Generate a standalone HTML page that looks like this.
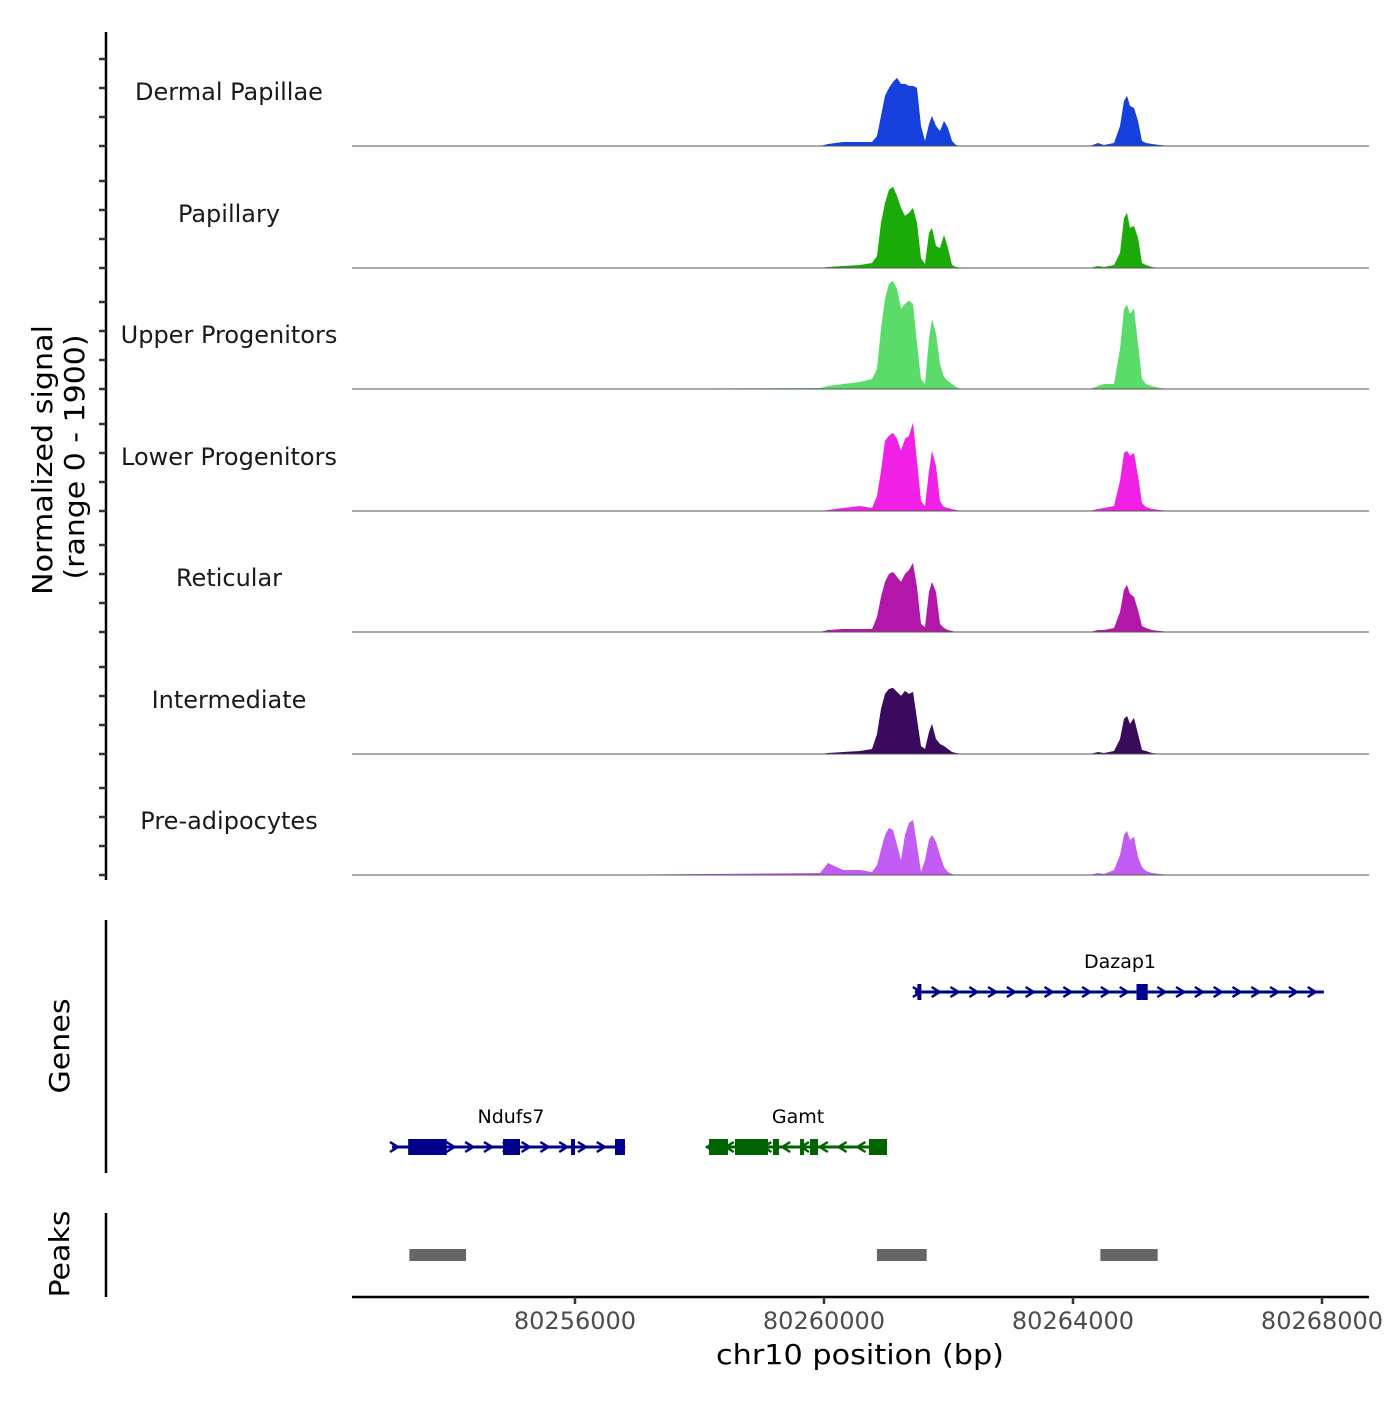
<!DOCTYPE html>
<html><head><meta charset="utf-8"><style>
html,body{margin:0;padding:0;background:#fff;}
svg text{font-family:"DejaVu Sans","Liberation Sans",sans-serif;}
</style></head><body>
<svg id="chart" xmlns="http://www.w3.org/2000/svg" width="1400" height="1400" viewBox="0 0 1400 1400">
<rect width="1400" height="1400" fill="#fff"/>
<g id="tracks"></g>
<g id="leftaxis"></g>
<g id="genes"></g>
<g id="peaks"></g>
<g id="xaxis"></g>
<text transform="translate(52,460) rotate(-90)" text-anchor="middle" font-size="28" textLength="270" lengthAdjust="spacingAndGlyphs" fill="#000">Normalized signal</text>
<text transform="translate(84,457) rotate(-90)" text-anchor="middle" font-size="28" textLength="245" lengthAdjust="spacingAndGlyphs" fill="#000">(range 0 - 1900)</text>
<text transform="translate(69,1046) rotate(-90)" text-anchor="middle" font-size="28" textLength="95" lengthAdjust="spacingAndGlyphs" fill="#000">Genes</text>
<text transform="translate(69,1254) rotate(-90)" text-anchor="middle" font-size="28" textLength="87" lengthAdjust="spacingAndGlyphs" fill="#000">Peaks</text>
<text x="860" y="1364" text-anchor="middle" font-size="28" textLength="288" lengthAdjust="spacingAndGlyphs" fill="#000">chr10 position (bp)</text>
</svg>
<script>
const trackNames = ["Dermal Papillae","Papillary","Upper Progenitors","Lower Progenitors","Reticular","Intermediate","Pre-adipocytes"];
const trackColors = ["#1540dd","#1aab08","#5bdc6a","#f020e6","#b317aa","#3a0a5c","#c25cf5"];
const positions = [80252418,80253671,80256241,80259936,80260064,80260305,80260579,80260771,80260852,80260916,80260980,80261044,80261109,80261173,80261237,80261301,80261366,80261430,80261494,80261558,80261623,80261687,80261735,80261799,80261864,80261928,80261992,80262056,80262121,80262217,80264273,80264402,80264498,80264659,80264755,80264819,80264868,80264916,80264980,80265044,80265109,80265173,80265269,80265398,80265558,80268755];
const sigDermal = [0,0,0,0,32,64,64,64,160,480,800,928,1024,1088,992,992,960,960,928,320,80,352,480,320,240,400,288,80,16,0,0,48,16,48,320,720,800,640,608,400,80,48,32,16,0,0];
const sigPapillary = [0,0,0,0,16,32,48,80,192,720,1040,1248,1296,1152,960,832,880,960,720,160,64,560,640,352,320,528,320,48,16,0,0,32,16,48,240,800,880,640,672,480,80,48,16,0,0,0];
const sigUpper = [0,0,0,16,48,80,112,160,320,960,1440,1680,1728,1600,1280,1360,1408,1360,720,160,80,800,1120,880,400,192,128,80,32,0,0,48,80,80,640,1280,1344,1200,1280,720,160,80,48,16,0,0];
const sigLower = [0,0,0,0,16,48,80,48,240,640,1120,1200,1248,1152,960,1152,1200,1408,800,160,80,640,960,720,160,64,48,32,16,0,0,32,48,80,480,928,960,880,928,560,128,64,32,16,0,0];
const sigReticular = [0,0,0,0,32,48,48,48,240,560,800,928,960,880,800,928,992,1104,720,128,80,640,800,640,128,64,32,16,0,0,0,32,32,64,320,672,752,608,560,352,96,64,32,16,0,0];
const sigIntermediate = [0,0,0,0,16,32,48,80,320,720,960,1040,1056,992,928,1008,960,992,560,128,80,352,480,240,160,128,80,32,16,0,0,32,16,48,240,560,608,480,576,320,64,48,16,0,0,0];
const sigPreadipo = [0,0,0,32,192,80,80,48,160,400,640,752,720,480,240,640,832,880,480,48,240,560,640,528,320,128,48,16,0,0,0,32,16,80,320,640,704,560,608,288,128,64,32,16,0,0];
const xTicks = [80256000,80260000,80264000,80268000];
const genesData = ["Dazap1","Ndufs7","Gamt"];
const geneStart = [80261460,80253060,80258153];
const geneEnd = [80268030,80256803,80261012];
const peakStart = [80253340,80260850,80264440];
const peakEnd = [80254250,80261650,80265360];

const series = [sigDermal,sigPapillary,sigUpper,sigLower,sigReticular,sigIntermediate,sigPreadipo];
const NS = "http://www.w3.org/2000/svg";
const X0 = 352, X1 = 1369, BP0 = 80252418, BP1 = 80268755;
const xs = bp => X0 + (bp - BP0) / (BP1 - BP0) * (X1 - X0);
const baselines = [146,268,389,511,632,754,875];
const yMax = 1900, trackH = 119;
const ys = (v, b) => b - v / yMax * trackH;
function mk(tag, attrs, parent){const e=document.createElementNS(NS,tag);for(const k in attrs)e.setAttribute(k,attrs[k]);parent.appendChild(e);return e;}

const tg = document.getElementById('tracks');
series.forEach((vals, i) => {
  const b = baselines[i];
  let d = `M${xs(positions[0])},${b}`;
  vals.forEach((v, j) => { d += ` L${xs(positions[j]).toFixed(1)},${ys(v,b).toFixed(1)}`; });
  d += ` L${xs(positions[positions.length-1])},${b} Z`;
  const p = mk('path', {d: d, fill: trackColors[i]}, tg);
  
  
  const ln = mk('line', {x1: X0, x2: X1, y1: b, y2: b, stroke: '#555', 'stroke-width': 1}, tg);
  
  
  const t = mk('text', {x: 229, y: b - 46, 'text-anchor': 'middle', 'font-size': 24, fill: '#1a1a1a'}, tg);
  t.textContent = trackNames[i];
  
  
});

const la = document.getElementById('leftaxis');
let a1 = mk('line', {x1:106,x2:106,y1:32,y2:880,stroke:'#000','stroke-width':2.5}, la);


baselines.forEach(b => { [0,29,58,87].forEach(o => { mk('line',{x1:99,x2:106,y1:b-o,y2:b-o,stroke:'#333','stroke-width':2.5},la); }); });
let a2 = mk('line', {x1:106,x2:106,y1:920,y2:1173,stroke:'#000','stroke-width':2.5}, la);


let a3 = mk('line', {x1:106,x2:106,y1:1213,y2:1297,stroke:'#000','stroke-width':2.5}, la);



// genes
const gg = document.getElementById('genes');
const geneY = [992,1147,1147], geneCol = ['#00008b','#00008b','#006400'], geneDir = [1,1,-1];
const exons = [
  [[80261500,80261560],[80265020,80265200]],
  [[80253320,80253940],[80254844,80255117],[80255936,80256000],[80256643,80256803]],
  [[80258153,80258458],[80258570,80259101],[80259181,80259277],[80259615,80259679],[80259775,80259904],[80260723,80261012]]
];
const labelX = [80264755,80254972,80259583];
genesData.forEach((g, i) => {
  const y = geneY[i], c = geneCol[i];
  const grp = mk('g', {}, gg);
  
  
  const x1 = xs(geneStart[i]), x2 = xs(geneEnd[i]);
  mk('line', {x1:x1,x2:x2,y1:y,y2:y,stroke:c,'stroke-width':3}, grp);
  for (let x = x1 + 2; x <= x2 + 1; x += 18.8) {
    const dx = 4 * geneDir[i];
    mk('path', {d:`M${x-dx},${y-5} L${x+dx},${y} L${x-dx},${y+5}`, fill:'none', stroke:c, 'stroke-width':2.5}, grp);
  }
  exons[i].forEach(e => {
    const ex1 = xs(e[0]), ex2 = xs(e[1]);
    const w = Math.max(ex2 - ex1, 4);
    mk('rect', {x:ex1, y:y-8, width:w, height:16, fill:c}, grp);
  });
  const t = mk('text', {x: xs(labelX[i]), y: y - 24, 'text-anchor':'middle', 'font-size':19, fill:'#000'}, grp);
  t.textContent = g;
});

// peaks
const pg = document.getElementById('peaks');
peakStart.forEach((s, i) => {
  const r = mk('rect', {x: xs(s), y: 1249, width: xs(peakEnd[i]) - xs(s), height: 12, fill: '#666'}, pg);
  
  
});

// x axis
const xg = document.getElementById('xaxis');
const xl = mk('line', {x1:X0,x2:X1,y1:1297,y2:1297,stroke:'#000','stroke-width':2.5}, xg);


xTicks.forEach(v => {
  const x = xs(v);
  mk('line', {x1:x,x2:x,y1:1297,y2:1304,stroke:'#333','stroke-width':2.5}, xg);
  const t = mk('text', {x:x, y:1329, 'text-anchor':'middle', 'font-size':24, fill:'#4d4d4d'}, xg);
  t.textContent = v;
  
  
});
</script>
</body></html>
